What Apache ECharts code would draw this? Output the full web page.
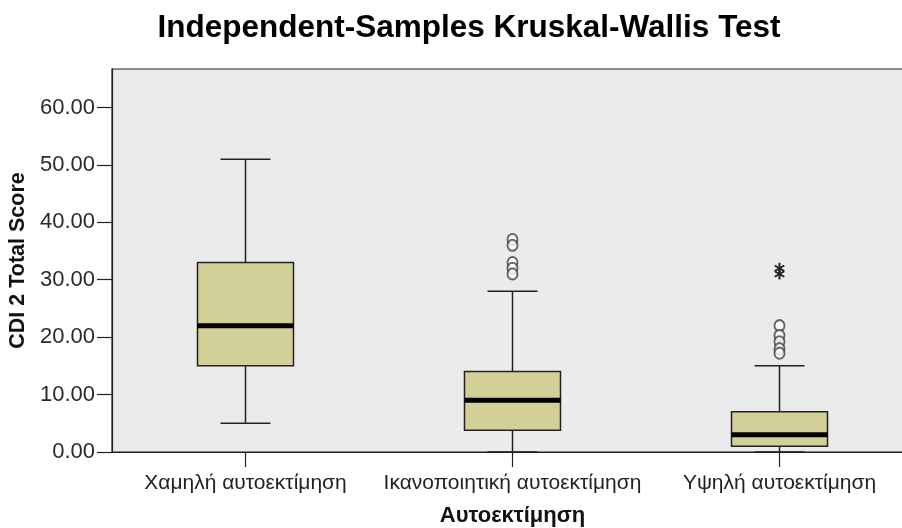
<!DOCTYPE html>
<html>
<head>
<meta charset="utf-8">
<script src="https://cdn.jsdelivr.net/npm/echarts@6/dist/echarts.min.js"></script>
<style>
  html, body { margin: 0; padding: 0; background: #fff; }
  #chart { width: 902px; height: 528px; }
</style>
</head>
<body>
<div id="chart"></div>
<script>
// groups on the x axis
const categories = ['Χαμηλή αυτοεκτίμηση', 'Ικανοποιητική αυτοεκτίμηση', 'Υψηλή αυτοεκτίμηση'];
// [min, q1, median, q3, max] per group
const boxStats = [
    [5, 15, 22, 33, 51],
    [0, 3.8, 9, 14, 28],
    [0, 1, 3, 7, 15]
];
// outliers (circles) and extremes (stars): [group index, value]
const outliers = [
    [1, 37], [1, 36], [1, 33], [1, 32], [1, 31],
    [2, 22], [2, 20.3], [2, 19.2], [2, 18], [2, 17.2]
];
const extremes = [
    [2, 32], [2, 31]
];
const yTicks = [0, 10, 20, 30, 40, 50, 60];

const font = '"Liberation Sans", Arial, sans-serif';
const chart = echarts.init(document.getElementById('chart'));

chart.setOption({
    animation: false,
    backgroundColor: '#fff',
    title: {
        text: 'Independent-Samples Kruskal-Wallis Test',
        left: 464,
        top: 7,
        textAlign: 'center',
        textStyle: { fontFamily: font, fontSize: 31.5, fontWeight: 'bold', color: '#000' }
    },
    grid: {
        left: 112, top: 69, right: -11, bottom: 76,
        containLabel: false,
        outerBoundsMode: 'none',
        show: true, backgroundColor: '#ebebeb', borderColor: '#222', borderWidth: 1.2
    },
    xAxis: {
        type: 'category',
        data: categories,
        name: 'Αυτοεκτίμηση',
        nameLocation: 'middle',
        nameGap: 53,
        nameTextStyle: { fontFamily: font, fontSize: 22, fontWeight: 'bold', color: '#111' },
        axisLine: { lineStyle: { color: '#222', width: 1.2 } },
        axisTick: { show: true, interval: 0, alignWithLabel: true, length: 15, lineStyle: { color: '#222', width: 1.2 } },
        axisLabel: { fontFamily: font, fontSize: 21, color: '#222', margin: 21, interval: 0 }
    },
    yAxis: {
        type: 'value',
        min: 0,
        max: 66.7,
        name: 'CDI 2 Total Score',
        nameLocation: 'middle',
        nameGap: 78,
        nameTextStyle: { fontFamily: font, fontSize: 21.5, fontWeight: 'bold', color: '#111' },
        splitLine: { show: false },
        axisLine: { show: true, lineStyle: { color: '#222', width: 1.2 } },
        axisTick: { show: true, length: 15, customValues: yTicks, lineStyle: { color: '#222', width: 1.2 } },
        axisLabel: {
            fontFamily: font, fontSize: 22, color: '#2a2a2a', margin: 17,
            customValues: yTicks,
            formatter: v => v.toFixed(2)
        }
    },
    series: [
        {
            type: 'custom',
            data: boxStats.map((s, i) => [i].concat(s)),
            encode: { x: 0, y: [1, 2, 3, 4, 5] },
            renderItem: function (params, api) {
                const x = api.value(0);
                const p = [1, 2, 3, 4, 5].map(k => api.coord([x, api.value(k)]));
                const cx = p[0][0];
                const bw = 96, cw = 50;
                const line = { stroke: '#222', lineWidth: 1.5 };
                return {
                    type: 'group',
                    children: [
                        { type: 'line', shape: { x1: cx, y1: p[0][1], x2: cx, y2: p[1][1] }, style: line },
                        { type: 'line', shape: { x1: cx, y1: p[3][1], x2: cx, y2: p[4][1] }, style: line },
                        { type: 'line', shape: { x1: cx - cw / 2, y1: p[0][1], x2: cx + cw / 2, y2: p[0][1] }, style: line },
                        { type: 'line', shape: { x1: cx - cw / 2, y1: p[4][1], x2: cx + cw / 2, y2: p[4][1] }, style: line },
                        { type: 'rect', shape: { x: cx - bw / 2, y: p[3][1], width: bw, height: p[1][1] - p[3][1] },
                          style: { fill: '#d3cf98', stroke: '#222', lineWidth: 1.5 } },
                        { type: 'line', shape: { x1: cx - bw / 2, y1: p[2][1], x2: cx + bw / 2, y2: p[2][1] },
                          style: { stroke: '#000', lineWidth: 5 } }
                    ]
                };
            },
            z: 2
        },
        {
            type: 'scatter',
            data: outliers,
            symbol: 'emptyCircle',
            symbolSize: [10, 11],
            itemStyle: { color: '#444', borderColor: '#444', borderWidth: 1.6 },
            z: 3
        },
        {
            type: 'custom',
            data: extremes,
            renderItem: function (params, api) {
                const c = api.coord([api.value(0), api.value(1)]);
                const r = 5.5;
                const st = { stroke: '#222', lineWidth: 2 };
                const children = [0, 60, 120].map(a => {
                    const rad = (a + 90) * Math.PI / 180;
                    const dx = r * Math.cos(rad), dy = r * Math.sin(rad);
                    return { type: 'line', shape: { x1: c[0] - dx, y1: c[1] - dy, x2: c[0] + dx, y2: c[1] + dy }, style: st };
                });
                return { type: 'group', children: children };
            },
            z: 3
        }
    ]
});
</script>
</body>
</html>
